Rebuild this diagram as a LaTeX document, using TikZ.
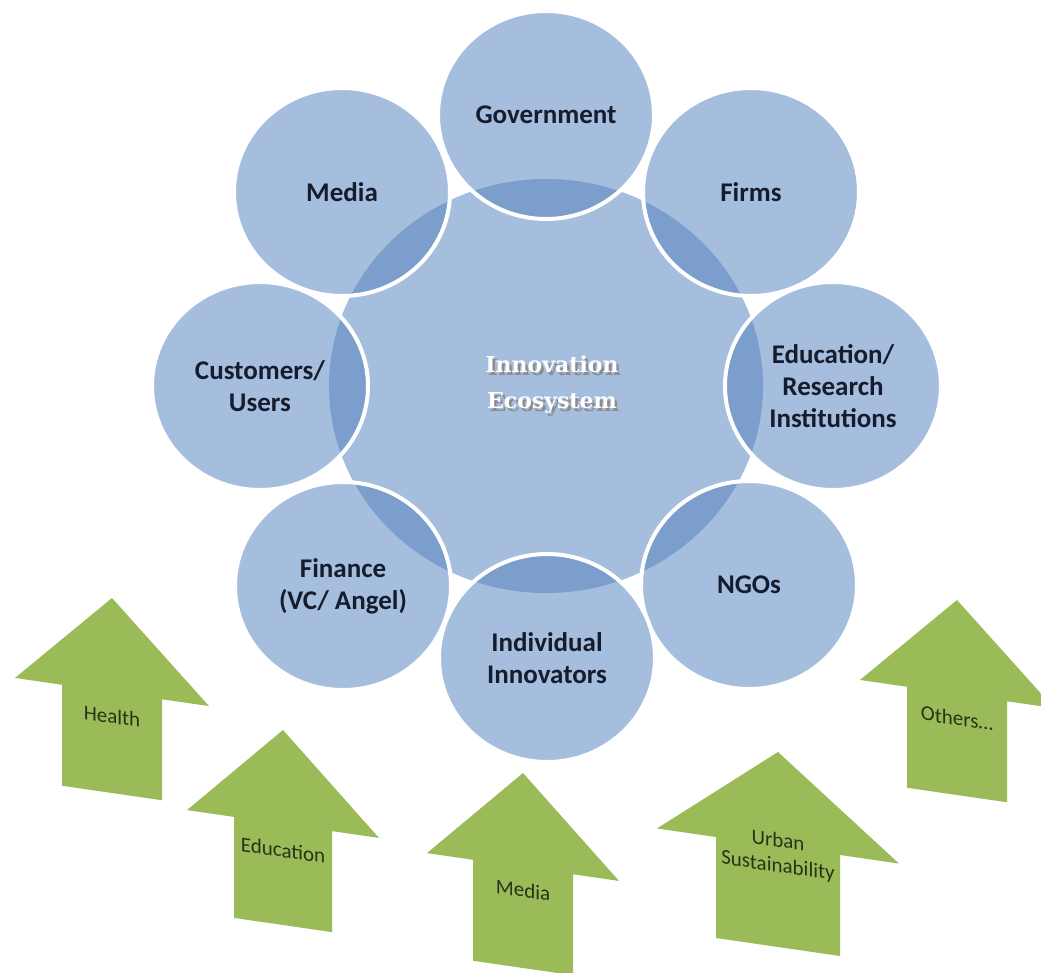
\documentclass[tikz,border=0pt]{standalone}
\usepackage{fontspec}
\setmainfont{Carlito}
\newfontfamily\ecofont{DejaVu Serif}
\definecolor{ringblue}{RGB}{166,190,222}
\definecolor{lensblue}{RGB}{124,158,204}
\definecolor{arrowgreen}{RGB}{155,187,89}
\definecolor{labelnavy}{RGB}{20,28,46}
\definecolor{arrowtext}{RGB}{38,52,22}
\newcommand{\shadowword}[1]{\rlap{\hspace{2.5pt}\raisebox{-2.5pt}{\color{black!45}#1}}#1}
\tikzset{
  actor/.style={font=\fontsize{27}{32}\selectfont\bfseries, text=labelnavy, align=center},
  sector/.style={fill=arrowgreen, draw=none},
  sectorlabel/.style={font=\fontsize{21}{25}\selectfont, text=arrowtext, align=center, transform shape},
}

\begin{document}
\begin{tikzpicture}[x=1pt, y=-1pt]
  \useasboundingbox (0,0) rectangle (1041,972);
  \clip (0,0) rectangle (1041,972);
  \fill[white] (0,0) rectangle (1041,972);

  % Core of the ecosystem
  \coordinate (core) at (546,386);
  \fill[ringblue] (core) ellipse [x radius=217pt, y radius=207pt];

  % Actors around the core
  \foreach \n/\px/\py/\txt in {gov/546/115/Government, firms/751/192/Firms,
      edu/833/386/{Education/\\Research\\Institutions}, ngo/749/585/NGOs,
      indiv/547/658/{Individual\\Innovators}, fin/343/586/{Finance\\(VC/ Angel)},
      cust/260/386/{Customers/\\Users}, media/342/192/Media}{
    \fill[ringblue] (\px,\py) ellipse [x radius=108pt, y radius=104pt];
    \begin{scope}
      \clip (\px,\py) ellipse [x radius=108pt, y radius=104pt];
      \fill[lensblue] (core) ellipse [x radius=217pt, y radius=207pt];
    \end{scope}
    \draw[white, line width=4pt] (\px,\py) ellipse [x radius=108pt, y radius=104pt];
    \node[actor] (\n) at (\px,\py) {\txt};
  }

  % Core label
  \node[font=\ecofont\bfseries\fontsize{22}{36}\selectfont, text=white, align=center] (corelabel) at (552,386)
    {\shadowword{Innovation}\\\shadowword{Ecosystem}};

  % Sector arrows
  \foreach \n/\tx/\ty/\hw/\sw/\ly/\txt in {health/112/598/97/50/118/Health,
      educ/283/730/96/49/120/Education, press/523/773/96/50/117/Media,
      urban/778/752/121/62/102/{Urban\\Sustainability}, others/957/600/97/50/118/{Others\ldots}}{
    \begin{scope}[shift={(\tx,\ty)}, yslant=-0.145]
      \fill[sector] (0,0) -- (\hw,94) -- (\sw,94) -- (\sw,195) -- (-\sw,195)
        -- (-\sw,94) -- (-\hw,94) -- cycle;
      \node[sectorlabel] (sec-\n) at (0,\ly) {\txt};
    \end{scope}
  }
\end{tikzpicture}
\end{document}
